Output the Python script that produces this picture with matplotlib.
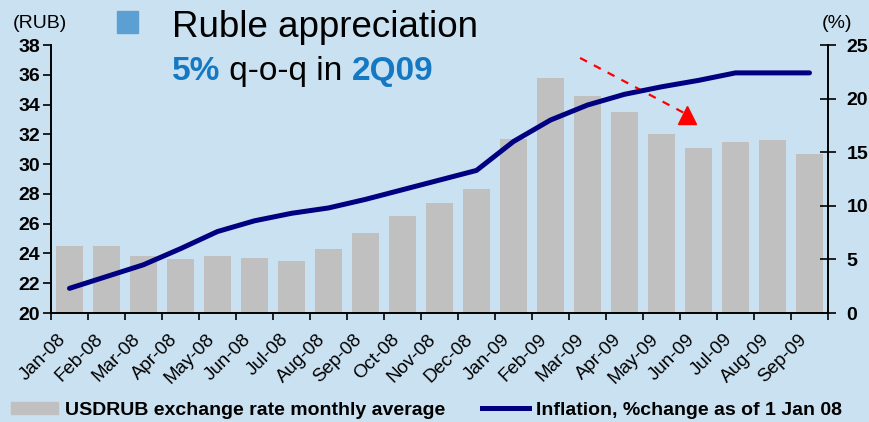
import matplotlib
matplotlib.use("Agg")
import numpy as np
import matplotlib.pyplot as plt
from matplotlib.patches import Rectangle

plt.rcParams['font.family'] = ['Liberation Sans', 'DejaVu Sans']

# monthly data, Jan-08 .. Sep-09
months = ['Jan-08', 'Feb-08', 'Mar-08', 'Apr-08', 'May-08', 'Jun-08', 'Jul-08',
          'Aug-08', 'Sep-08', 'Oct-08', 'Nov-08', 'Dec-08', 'Jan-09', 'Feb-09',
          'Mar-09', 'Apr-09', 'May-09', 'Jun-09', 'Jul-09', 'Aug-09', 'Sep-09']
usdrub = [24.5, 24.5, 23.8, 23.6, 23.8, 23.7, 23.5, 24.3, 25.4, 26.5, 27.4,
          28.3, 31.7, 35.8, 34.6, 33.5, 32.0, 31.1, 31.5, 31.6, 30.7]
inflation = [2.3, 3.4, 4.5, 6.0, 7.6, 8.6, 9.3, 9.8, 10.6, 11.5, 12.4,
             13.3, 16.0, 18.0, 19.4, 20.4, 21.1, 21.7, 22.4, 22.4, 22.4]

rub_ticks = np.arange(20, 39, 2)
pct_ticks = np.arange(0, 26, 5)

bg = '#CAE1F1'
bar_col = '#C0C0C0'
line_col = '#000080'
accent = '#1478C2'

fig = plt.figure(figsize=(8.7, 4.22), dpi=100, facecolor=bg)
ax = fig.add_axes([51/870, 1-313/422, 777/870, 268/422], facecolor=bg)
ax2 = ax.twinx()

x = np.arange(len(months))
ax.bar(x, usdrub, width=0.74, color=bar_col, zorder=2)
ax2.plot(x, inflation, color=line_col, lw=3.6, solid_capstyle='round',
         solid_joinstyle='round', zorder=3)

ax.set_xlim(-0.5, len(months) - 0.5)
ax.set_ylim(20, 38)
ax2.set_ylim(0, 25)

ax.set_yticks(rub_ticks)
ax.set_yticklabels([str(v) for v in rub_ticks], fontsize=14, fontweight='bold')
ax2.set_yticks(pct_ticks)
ax2.set_yticklabels([str(v) for v in pct_ticks], fontsize=14, fontweight='bold')

# labels at centers, tick marks at category boundaries
ax.set_xticks(x)
ax.set_xticklabels(months, rotation=45, ha='right', fontsize=13.5)
ax.set_xticks(np.arange(-0.5, len(months)), minor=True)
ax.tick_params(axis='x', which='major', length=0, pad=13)
ax.tick_params(axis='x', which='minor', length=5, width=1.2, direction='out')
ax.tick_params(axis='y', length=6, width=1.2, direction='out', pad=2)
ax2.tick_params(axis='y', length=11, width=1.2, direction='inout', pad=8)

for a in (ax, ax2):
    a.spines['top'].set_visible(False)
    for s in ('left', 'right', 'bottom'):
        a.spines[s].set_linewidth(1.2)

# red dashed trend arrow: dashed shaft plus a solid triangle head
ax.plot([13.8, 16.6], [37.13, 33.45], color='red', lw=1.6,
        linestyle=(0, (3.5, 3.5)), zorder=2.5)
ax.plot([16.69], [33.3], marker='^', markersize=13, color='red', zorder=2.5)

# axis unit labels
fig.text(40/870, 1-28/422, '(RUB)', fontsize=14, ha='center', va='baseline')
fig.text(837/870, 1-28/422, '(%)', fontsize=14, ha='center', va='baseline')

# headline box
fig.add_artist(Rectangle((117/870, 1-33/422), 21/870, 22/422,
                         transform=fig.transFigure, color='#5B9FD3'))
fig.text(172/870, 1-37/422, 'Ruble appreciation', fontsize=26.5, va='baseline')

renderer = fig.canvas.get_renderer()
xpos = 172/870
for txt, col, wt in [('5%', accent, 'bold'), (' q-o-q in ', 'black', 'normal'),
                     ('2Q09', accent, 'bold')]:
    t = fig.text(xpos, 1-80/422, txt, fontsize=24, color=col, fontweight=wt,
                 va='baseline')
    bb = t.get_window_extent(renderer)
    xpos = bb.x1 / fig.bbox.width

# legend
h1 = Rectangle((0, 0), 1, 1, color=bar_col)
h2 = plt.Line2D([], [], color=line_col, lw=3.6)
fig.legend([h1, h2], ['USDRUB exchange rate monthly average',
                      'Inflation, %change as of 1 Jan 08'],
           loc='lower center', bbox_to_anchor=(0.49, -0.025), ncol=2,
           frameon=False, prop={'weight': 'bold', 'size': 14},
           handlelength=2.4, handleheight=0.6, handletextpad=0.36,
           columnspacing=1.9, borderpad=0.2)

fig.savefig('out.png', dpi=100, facecolor=bg)
